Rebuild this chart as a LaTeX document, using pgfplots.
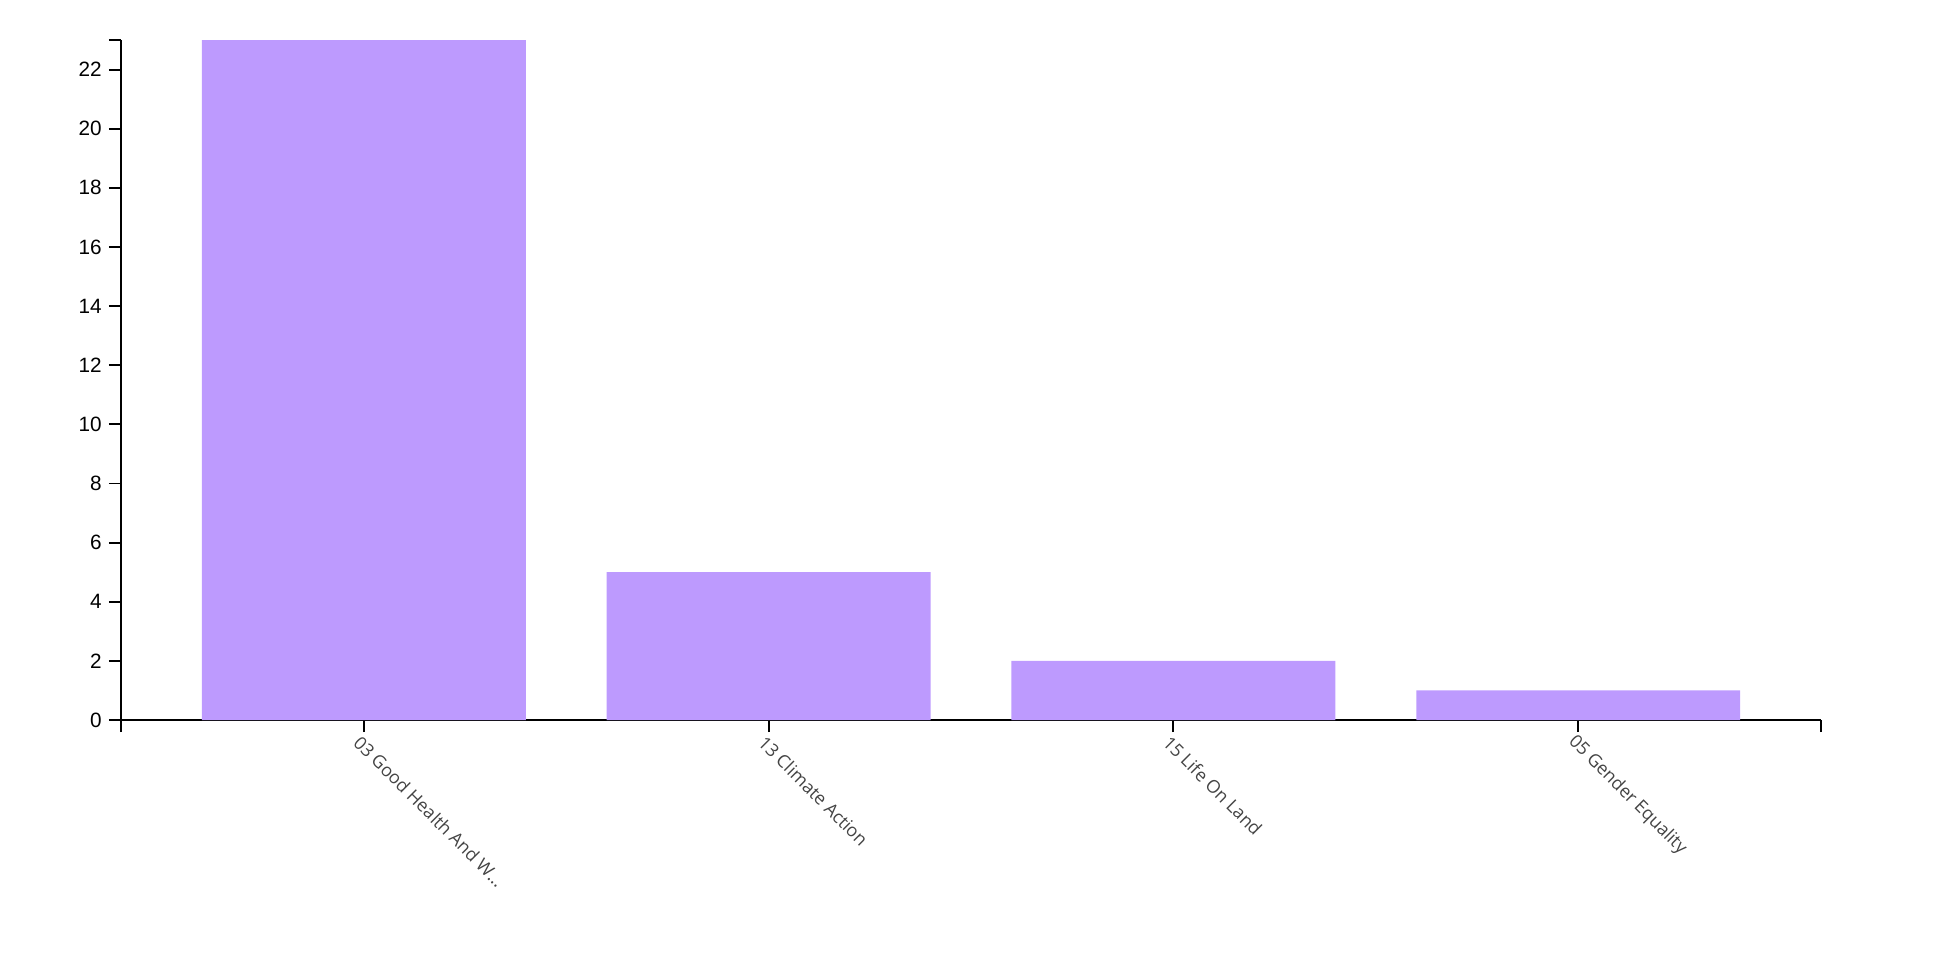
\documentclass[border=0pt]{standalone}
\usepackage{pgfplots}
\pgfplotsset{compat=1.18}
\usepackage{fontspec}
\setmainfont{Liberation Sans}
\newfontfamily\xlab{Open Sans}
\definecolor{barc}{RGB}{189,154,254}
\definecolor{labc}{RGB}{68,68,68}
\begin{document}
\begin{tikzpicture}
\useasboundingbox (0,0) rectangle (19.6cm,9.6cm);
\begin{axis}[
  at={(1.21cm,2.4cm)}, anchor=south west,
  scale only axis, width=17cm, height=6.8cm,
  xmin=-0.6, xmax=3.6, ymin=0, ymax=23,
  axis x line*=bottom, axis y line*=left,
  axis line style={-, line width=0.55pt, black},
  every tick/.style={black, line width=0.55pt},
  tick align=outside, major tick length=1.2mm,
  xtick={0,1,2,3},
  xticklabels={03 Good Health And W\dots, 13 Climate Action, 15 Life On Land, 05 Gender Equality},
  extra x ticks={-0.6,3.6}, extra x tick labels={},
  extra x tick style={tick align=outside, major tick length=1.2mm},
  ytick={0,2,...,22},
  extra y ticks={23}, extra y tick labels={},
  /pgf/number format/assume math mode=true,
  yticklabel style={font=\fontsize{5.9pt}{7pt}\selectfont, xshift=0.5mm},
  xticklabel style={font=\xlab\fontsize{5.1pt}{6pt}\selectfont, text=labc, rotate=-45, anchor=west, xshift=-1.2mm, yshift=-1.0mm},
  ]
\addplot[ybar, bar width=0.8, fill=barc, draw=none] coordinates {(0,23) (1,5) (2,2) (3,1)};
\end{axis}
\end{tikzpicture}
\end{document}
